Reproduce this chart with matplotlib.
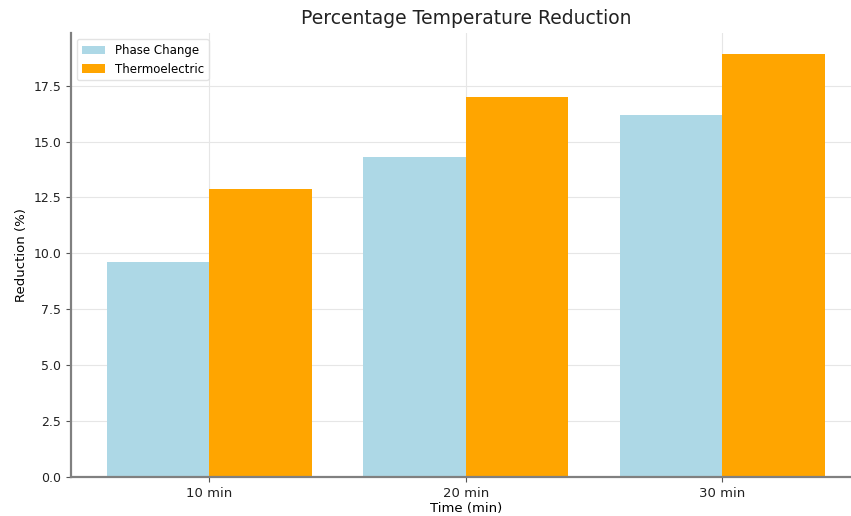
import numpy as np
import matplotlib
matplotlib.use("Agg")
import matplotlib.pyplot as plt

times = ["10 min", "20 min", "30 min"]
phase_change = [9.6, 14.3, 16.2]
thermoelectric = [12.9, 17.0, 18.9]

x = np.arange(len(times))
width = 0.4

fig = plt.figure(figsize=(8.51, 5.16), dpi=100)
ax = fig.add_axes([0.0834, 0.0756, 0.928, 0.860])

ax.bar(x - width / 2, phase_change, width, color="lightblue", label="Phase Change")
ax.bar(x + width / 2, thermoelectric, width, color="orange", label="Thermoelectric")

ax.set_xticks(x)
ax.set_xticklabels(times, fontsize=9.5)
ax.set_yticks(np.arange(0, 17.6, 2.5))
ax.tick_params(axis="y", labelsize=9)
ax.tick_params(colors="#555555", labelcolor="#222222")

ax.set_xlabel("Time (min)", fontsize=9.5, labelpad=2)
ax.set_ylabel("Reduction (%)", fontsize=9.5, labelpad=4)
ax.set_title("Percentage Temperature Reduction", fontsize=13.5, pad=7, color="#222222")

ax.grid(True, color="#e6e6e6", linewidth=0.8)
ax.set_axisbelow(True)
for side in ["top", "right"]:
    ax.spines[side].set_visible(False)
for side in ["left", "bottom"]:
    ax.spines[side].set_color("#808080")
    ax.spines[side].set_linewidth(1.6)

ax.legend(loc="upper left", fontsize=8.5, framealpha=0.8, edgecolor="#dddddd")

fig.savefig("out.png", dpi=100)
